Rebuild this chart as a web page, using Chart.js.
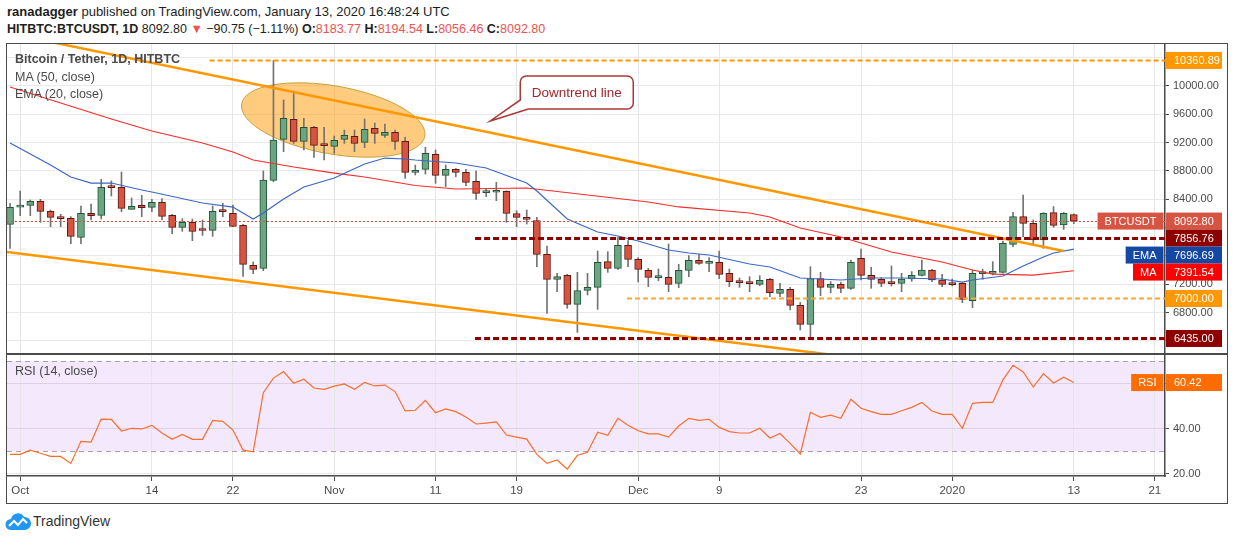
<!DOCTYPE html>
<html>
<head>
<meta charset="utf-8">
<title>Bitcoin / Tether, 1D, HITBTC</title>
<script src="https://cdn.jsdelivr.net/npm/chart.js@4.4.1/dist/chart.umd.min.js"></script>
<style>
  body { margin: 0; width: 1234px; height: 540px; background: #fff; position: relative; overflow: hidden;
         font-family: "Liberation Sans", Arial, sans-serif; color: #1e1e1e; }
  .abs { position: absolute; white-space: nowrap; }
  .hdr { left: 7px; font-size: 13px; }
  .dn { color: #ef5350; }
  .legend { left: 15px; font-size: 12.5px; color: #4a4a4a; }
  #mainBox { position: absolute; left: 7px; top: 44px; width: 1220px; height: 310px; }
  #rsiBox { position: absolute; left: 7px; top: 354px; width: 1220px; height: 149px; }
  #frame { position: absolute; left: 6px; top: 43px; width: 1222px; height: 461px; box-sizing: border-box;
           border: 1.5px solid #4a4a4a; pointer-events: none; }
  #sep { position: absolute; left: 6px; top: 353px; width: 1222px; height: 1.5px; background: #4a4a4a; }
</style>
</head>
<body>
<div class="abs hdr" style="top:4px"><b>ranadagger</b> published on TradingView.com, January 13, 2020 16:48:24 UTC</div>
<div class="abs hdr" style="top:22px;font-size:12.5px"><b>HITBTC:BTCUSDT, 1D</b> 8092.80 <span class="dn">▼</span> −90.75 (−1.11%) <b>O:</b><span class="dn">8183.77</span> <b>H:</b><span class="dn">8194.54</span> <b>L:</b><span class="dn">8056.46</span> <b>C:</b><span class="dn">8092.80</span></div>

<div id="mainBox"><canvas id="mainChart"></canvas></div>
<div id="rsiBox"><canvas id="rsiChart"></canvas></div>
<div id="frame"></div>
<div id="sep"></div>

<div class="abs legend" style="top:52px;font-weight:bold">Bitcoin / Tether, 1D, HITBTC</div>
<div class="abs legend" style="top:70px">MA (50, close)</div>
<div class="abs legend" style="top:87px">EMA (20, close)</div>
<div class="abs legend" style="top:364px">RSI (14, close)</div>

<svg class="abs" style="left:5px;top:511px" width="26" height="20" viewBox="0 0 26 20">
  <path d="M6 19 a5.5 5.5 0 0 1 0-11 a7 7 0 0 1 13-2 a6.5 6.5 0 0 1 1 13 z" fill="#2196f3"/>
  <polyline points="4,15 9,10 13,14 18,8 22,12" fill="none" stroke="#fff" stroke-width="2"/>
</svg>
<div class="abs" style="left:33px;top:513px;font-size:14px;color:#333">TradingView</div>

<script>
// daily candles, 30 Sep 2019 (index 0) to 13 Jan 2020 (index 105)
const opens = [8047, 8290, 8315, 8371, 8230, 8146, 8130, 7863, 8202, 8174,
  8575, 8569, 8259, 8315, 8287, 8357, 8174, 8004, 8075, 7967,
  7962, 8240, 8202, 8033, 7468, 7425, 8668, 9246, 9529, 9218,
  9416, 9165, 9148, 9246, 9289, 9204, 9402, 9303, 9345, 9218,
  8781, 8823, 9035, 8738, 8823, 8781, 8654, 8495, 8500, 8513,
  8197, 8146, 8099, 7623, 7270, 7327, 6917, 7115, 7157, 7520,
  7425, 7750, 7553, 7397, 7295, 7298, 7214, 7397, 7538, 7496,
  7510, 7355, 7228, 7214, 7200, 7270, 7072, 7129, 6903, 6635,
  7280, 7157, 7200, 7143, 7567, 7327, 7270, 7218, 7214, 7275,
  7327, 7402, 7261, 7200, 7214, 6969, 7350, 7355, 7369, 7764,
  8155, 8061, 7826, 8212, 8038, 8183.77];
const highs = [8343, 8517, 8390, 8400, 8249, 8188, 8155, 8306, 8334, 8682,
  8659, 8786, 8419, 8456, 8400, 8409, 8188, 8127, 8122, 8108,
  8306, 8343, 8320, 8047, 7515, 8800, 10361, 9802, 9929, 9543,
  9430, 9416, 9294, 9378, 9378, 9534, 9477, 9463, 9378, 9275,
  8884, 9134, 9096, 8884, 8835, 8823, 8800, 8555, 8640, 8520,
  8240, 8249, 8146, 7741, 7355, 7341, 7369, 7355, 7670, 7661,
  7863, 7816, 7576, 7425, 7416, 7769, 7482, 7604, 7623, 7576,
  7670, 7416, 7289, 7308, 7322, 7284, 7214, 7157, 6945, 7449,
  7369, 7237, 7230, 7543, 7699, 7440, 7294, 7459, 7355, 7379,
  7543, 7412, 7341, 7275, 7223, 7402, 7412, 7520, 7812, 8217,
  8461, 8108, 8212, 8297, 8215, 8194.54];
const lows = [7708, 8169, 8169, 8075, 8014, 8014, 7774, 7774, 8108, 8122,
  8447, 8226, 8259, 8155, 8226, 8108, 7915, 7948, 7816, 7891,
  7877, 8155, 8014, 7312, 7350, 7392, 8649, 9072, 9190, 9096,
  8992, 8955, 9049, 9190, 9072, 9129, 9190, 9275, 9105, 8696,
  8743, 8757, 8625, 8578, 8719, 8593, 8400, 8437, 8381, 8075,
  8014, 8051, 7449, 6790, 7096, 6861, 6522, 7049, 6846, 7369,
  7411, 7449, 7232, 7167, 7251, 7096, 7152, 7308, 7482, 7378,
  7280, 7167, 7157, 7096, 7181, 7025, 7025, 6837, 6555, 6437,
  7039, 7082, 7080, 7129, 7261, 7143, 7167, 7176, 7096, 7242,
  7317, 7237, 7167, 7176, 6941, 6870, 7270, 7332, 7360, 7732,
  7873, 7765, 7708, 8005, 7976, 8056.46];
const closes = [8287, 8301, 8371, 8230, 8146, 8127, 7877, 8202, 8169, 8569,
  8565, 8273, 8301, 8282, 8357, 8160, 8004, 8075, 7948, 7960,
  8230, 8226, 8018, 7482, 7411, 8673, 9237, 9543, 9218, 9416,
  9162, 9157, 9232, 9303, 9190, 9388, 9331, 9345, 9218, 8781,
  8809, 9049, 8738, 8823, 8781, 8640, 8484, 8500, 8510, 8202,
  8146, 8117, 7623, 7270, 7308, 6917, 7110, 7157, 7510, 7425,
  7750, 7553, 7411, 7298, 7300, 7200, 7397, 7538, 7496, 7524,
  7341, 7237, 7223, 7209, 7256, 7082, 7129, 6903, 6635, 7280,
  7157, 7200, 7143, 7510, 7327, 7270, 7214, 7210, 7275, 7327,
  7402, 7261, 7200, 7195, 6988, 7355, 7357, 7360, 7779, 8155,
  8061, 7826, 8203, 8033, 8202, 8092.80];

// MA(50) and EMA(20) at sample days
const maDays = [0, 10, 14, 19, 22, 24, 28, 32, 35, 40, 44, 51, 57, 63, 66, 73, 75, 78, 82, 87, 92, 95, 97, 101, 105];
const maValues = [9986, 9534, 9365, 9195, 9068, 8955, 8856, 8771, 8715, 8595, 8546, 8560, 8461, 8362, 8292,
  8207, 8150, 7995, 7868, 7656, 7515, 7402, 7345, 7331, 7391.54];
const emaDays = [0, 4, 6, 8, 10, 13, 14, 19, 22, 24, 25, 27, 29, 32, 35, 37, 39, 40, 44, 47, 51, 52, 55, 58, 60,
  62, 65, 67, 69, 73, 75, 78, 82, 85, 88, 92, 94, 95, 98, 100, 102, 103, 105];
const emaValues = [9195, 8885, 8715, 8630, 8630, 8532, 8503, 8348, 8291, 8122, 8207, 8404, 8574, 8701, 8899,
  8983, 8969, 8955, 8913, 8842, 8630, 8517, 8122, 7938, 7882, 7811, 7684, 7642, 7614, 7487, 7444, 7289,
  7261, 7289, 7289, 7275, 7232, 7261, 7317, 7458, 7585, 7642, 7696.69];

// RSI(14), one value per candle
const rsiValues = [28.5, 28.5, 30.4, 29.0, 27.6, 27.6, 24.5, 34.3, 34.0, 44.2,
  44.1, 38.9, 40.1, 39.8, 41.4, 38.0, 35.2, 37.4, 35.2, 35.2,
  43.6, 43.2, 39.3, 30.4, 29.6, 55.9, 62.4, 65.3, 60.1, 61.9,
  58.0, 57.4, 58.8, 59.8, 57.4, 60.5, 58.9, 59.3, 56.4, 47.8,
  48.1, 52.5, 47.0, 48.7, 47.5, 45.1, 42.0, 42.4, 42.9, 37.1,
  36.2, 35.3, 28.5, 24.5, 26.0, 22.0, 28.1, 29.4, 38.4, 37.0,
  44.5, 41.4, 39.0, 37.6, 37.6, 36.2, 41.1, 44.5, 43.6, 44.1,
  40.5, 38.6, 38.0, 38.0, 40.1, 35.8, 37.8, 33.4, 28.7, 47.2,
  45.0, 45.9, 44.5, 53.0, 49.0, 47.5, 46.3, 46.3, 47.9, 49.4,
  51.6, 47.8, 46.3, 46.3, 40.1, 51.2, 51.6, 51.6, 61.6, 68.1,
  65.1, 58.4, 64.4, 60.2, 62.8, 60.42];

// time axis ticks (day index -> label)
const tickDays = [1, 14, 22, 32, 42, 50, 62, 70, 84, 93, 105, 113];
const tickLabels = ['Oct', '14', '22', 'Nov', '11', '19', 'Dec', '9', '23', '2020', '13', '21'];
const priceTicks = [6400, 6800, 7200, 7600, 8000, 8400, 8800, 9200, 9600, 10000, 10400];
const hiddenPriceTicks = [6400, 7600, 8000, 10400];
const rsiTicks = [20, 40, 60];

// drawn levels and lines (prices)
const levelPrices = [10360.89, 7856.76, 7000, 6435];
const upperTrend = [[0, 10741], [104, 7670]];
const lowerTrend = [[-0.3, 7656], [85, 6135]];

const FONT = '"Liberation Sans", Arial, sans-serif';
Chart.defaults.font.family = FONT;
Chart.defaults.animation = false;

const UP = '#6ba583', DOWN = '#d75442', UP_BORDER = '#225437', DOWN_BORDER = '#5b1a13';
const isUp = i => closes[i] >= opens[i];

const xMin = -0.3, xMax = 114;

function timeScale(showLabels) {
  return {
    type: 'linear', min: xMin, max: xMax, offset: false,
    afterBuildTicks: s => { s.ticks = tickDays.map(v => ({ value: v })); },
    afterFit: s => { s.height = showLabels ? 27 : 0; s.paddingLeft = 0; s.paddingRight = 0; },
    grid: { color: '#e6e6e6', offset: false, drawTicks: showLabels, tickLength: 5, tickColor: '#4a4a4a' },
    border: { display: showLabels, color: '#4a4a4a', width: 1.5 },
    ticks: {
      display: showLabels, autoSkip: false, maxRotation: 0, padding: 3,
      color: '#4a4a4a', font: { size: 11.5 },
      callback: v => tickLabels[tickDays.indexOf(v)]
    }
  };
}

function priceAxisFit(s) {
  s.width = 62;
  s.paddingTop = 0;
  s.paddingBottom = 0;
}

function drawTag(ctx, area, yPix, value, bg, tag) {
  const h = 17;
  ctx.fillStyle = bg;
  ctx.fillRect(area.right + 1, yPix - h / 2, 56, h);
  ctx.font = '11px ' + FONT;
  ctx.textBaseline = 'middle';
  ctx.textAlign = 'left';
  ctx.fillStyle = '#fff';
  ctx.fillText(value, area.right + 9, yPix + 0.5);
  if (tag) {
    const w = ctx.measureText(tag).width + 14;
    ctx.fillStyle = bg;
    ctx.fillRect(area.right - 1.5 - w, yPix - h / 2, w, h);
    ctx.fillStyle = '#fff';
    ctx.textAlign = 'center';
    ctx.fillText(tag, area.right - 1.5 - w / 2, yPix + 0.5);
  }
}

const mainOverlay = {
  id: 'mainOverlay',
  beforeDatasetsDraw(chart) {
    const { ctx, scales: { x, y } } = chart;
    // highlighted consolidation
    ctx.save();
    ctx.beginPath();
    ctx.ellipse(x.getPixelForValue(31.9), y.getPixelForValue(9520), 93, 34, 0.175, 0, Math.PI * 2);
    ctx.fillStyle = 'rgba(255,152,0,0.5)';
    ctx.fill();
    ctx.strokeStyle = '#c4a23c';
    ctx.lineWidth = 1;
    ctx.stroke();
    ctx.restore();
  },
  afterDatasetsDraw(chart) {
    const { ctx, chartArea: a, scales: { x, y } } = chart;
    ctx.save();
    ctx.beginPath();
    ctx.rect(a.left, a.top, a.right - a.left, a.bottom - a.top);
    ctx.clip();

    // channel lines
    ctx.strokeStyle = '#ff9800';
    ctx.lineWidth = 2.5;
    [upperTrend, lowerTrend].forEach(t => {
      ctx.beginPath();
      ctx.moveTo(x.getPixelForValue(t[0][0]), y.getPixelForValue(t[0][1]));
      ctx.lineTo(x.getPixelForValue(t[1][0]), y.getPixelForValue(t[1][1]));
      ctx.stroke();
    });

    // horizontal levels
    const levelStyle = [
      { from: 19.7, color: '#ff9800', width: 2, dash: [5, 3] },
      { from: 45.9, color: '#8e0000', width: 3, dash: [6, 3] },
      { from: 60.9, color: '#ffa726', width: 2, dash: [5, 3] },
      { from: 45.9, color: '#8e0000', width: 3, dash: [6, 3] }
    ];
    levelPrices.forEach((p, i) => {
      const s = levelStyle[i];
      const py = Math.round(y.getPixelForValue(p)) + 0.5;
      ctx.beginPath();
      ctx.setLineDash(s.dash);
      ctx.strokeStyle = s.color;
      ctx.lineWidth = s.width;
      ctx.moveTo(x.getPixelForValue(s.from), py);
      ctx.lineTo(a.right, py);
      ctx.stroke();
    });

    // last price line
    const lp = Math.round(y.getPixelForValue(closes[closes.length - 1])) + 0.5;
    ctx.beginPath();
    ctx.setLineDash([2, 2]);
    ctx.strokeStyle = DOWN;
    ctx.lineWidth = 1;
    ctx.moveTo(a.left, lp);
    ctx.lineTo(a.right, lp);
    ctx.stroke();
    ctx.setLineDash([]);

    // callout
    const tx = x.getPixelForValue(47.4), ty = y.getPixelForValue(9506);
    const L = tx + 30, T = ty - 45, R = L + 113, B = T + 33, r = 6;
    ctx.beginPath();
    ctx.moveTo(L + r, T);
    ctx.lineTo(R - r, T); ctx.arcTo(R, T, R, T + r, r);
    ctx.lineTo(R, B - r); ctx.arcTo(R, B, R - r, B, r);
    ctx.lineTo(L + 8, B);
    ctx.lineTo(tx, ty);
    ctx.lineTo(L, B - 9);
    ctx.lineTo(L, T + r); ctx.arcTo(L, T, L + r, T, r);
    ctx.closePath();
    ctx.fillStyle = '#fff';
    ctx.fill();
    ctx.strokeStyle = '#a63a3a';
    ctx.lineWidth = 1.5;
    ctx.stroke();
    ctx.fillStyle = '#a0282d';
    ctx.font = '13.5px ' + FONT;
    ctx.textAlign = 'center';
    ctx.textBaseline = 'middle';
    ctx.fillText('Downtrend line', (L + R) / 2, (T + B) / 2 + 0.5);
    ctx.restore();
  },
  afterDraw(chart) {
    const { ctx, chartArea: a, scales: { y } } = chart;
    const tags = [
      { p: levelPrices[0], bg: '#ff9800' },
      { p: closes[closes.length - 1], bg: DOWN, tag: 'BTCUSDT' },
      { p: levelPrices[1], bg: '#8e0000' },
      { p: emaValues[emaValues.length - 1], bg: '#1448a3', tag: 'EMA' },
      { p: maValues[maValues.length - 1], bg: '#ff0000', tag: 'MA' },
      { p: levelPrices[2], bg: '#ff9800' },
      { p: levelPrices[3], bg: '#8e0000' }
    ].sort((m, n) => n.p - m.p);
    let last = -1e9;
    ctx.save();
    tags.forEach(t => {
      let py = y.getPixelForValue(t.p);
      if (py < last + 17) py = last + 17;
      last = py;
      drawTag(ctx, a, py, t.p.toFixed(2), t.bg, t.tag);
    });
    ctx.restore();
  }
};

new Chart(document.getElementById('mainChart'), {
  type: 'bar',
  data: {
    datasets: [
      {
        type: 'line', label: 'EMA', order: 0,
        data: emaDays.map((d, i) => ({ x: d, y: emaValues[i] })),
        borderColor: '#3a66c4', borderWidth: 1.2, pointRadius: 0, tension: 0
      },
      {
        type: 'line', label: 'MA', order: 0,
        data: maDays.map((d, i) => ({ x: d, y: maValues[i] })),
        borderColor: '#ff2a2a', borderWidth: 1.2, pointRadius: 0, tension: 0
      },
      {
        label: 'body', order: 1, grouped: false,
        data: opens.map((o, i) => ({ x: i, y: [o, closes[i]] })),
        backgroundColor: opens.map((o, i) => isUp(i) ? UP : DOWN),
        borderColor: opens.map((o, i) => isUp(i) ? UP_BORDER : DOWN_BORDER),
        borderWidth: 1, borderSkipped: false, barThickness: 7, minBarLength: 2
      },
      {
        label: 'wick', order: 2, grouped: false,
        data: lows.map((l, i) => ({ x: i, y: [l, highs[i]] })),
        backgroundColor: '#737375', borderWidth: 0, barThickness: 1
      }
    ]
  },
  options: {
    responsive: true, maintainAspectRatio: false, events: [],
    layout: { padding: 0 },
    plugins: { legend: { display: false }, tooltip: { enabled: false } },
    scales: {
      x: timeScale(false),
      y: {
        position: 'right', min: 6216, max: 10593,
        afterBuildTicks: s => { s.ticks = priceTicks.map(v => ({ value: v })); },
        afterFit: priceAxisFit,
        grid: { color: '#e9e9e9', tickColor: '#4a4a4a', tickLength: 4 },
        border: { color: '#4a4a4a', width: 1.5 },
        ticks: {
          padding: 4, color: '#4a4a4a', font: { size: 11 },
          callback: v => hiddenPriceTicks.includes(v) ? '' : v.toFixed(2)
        }
      }
    }
  },
  plugins: [mainOverlay]
});

const rsiOverlay = {
  id: 'rsiOverlay',
  beforeDraw(chart) {
    const { ctx, chartArea: a, scales: { y } } = chart;
    ctx.save();
    ctx.fillStyle = '#f3e8fc';
    const t = y.getPixelForValue(70), b = y.getPixelForValue(30);
    ctx.fillRect(a.left, t, a.right - a.left, b - t);
    ctx.restore();
  },
  beforeDatasetsDraw(chart) {
    const { ctx, chartArea: a, scales: { y } } = chart;
    ctx.save();
    ctx.setLineDash([5, 4]);
    ctx.strokeStyle = '#a99cb3';
    ctx.lineWidth = 1;
    [70, 30].forEach(v => {
      const py = Math.round(y.getPixelForValue(v)) + 0.5;
      ctx.beginPath();
      ctx.moveTo(a.left, py);
      ctx.lineTo(a.right, py);
      ctx.stroke();
    });
    ctx.restore();
  },
  afterDraw(chart) {
    const { ctx, chartArea: a, scales: { y } } = chart;
    const v = rsiValues[rsiValues.length - 1];
    ctx.save();
    drawTag(ctx, a, y.getPixelForValue(v), v.toFixed(2), '#ff6d00', 'RSI');
    ctx.restore();
  }
};

new Chart(document.getElementById('rsiChart'), {
  type: 'line',
  data: {
    datasets: [{
      label: 'RSI',
      data: rsiValues.map((v, i) => ({ x: i, y: v })),
      borderColor: '#fa6e2c', borderWidth: 1.2, pointRadius: 0, tension: 0
    }]
  },
  options: {
    responsive: true, maintainAspectRatio: false, events: [],
    layout: { padding: 0 },
    plugins: { legend: { display: false }, tooltip: { enabled: false } },
    scales: {
      x: timeScale(true),
      y: {
        position: 'right', min: 18.9, max: 73.1,
        afterBuildTicks: s => { s.ticks = rsiTicks.map(v => ({ value: v })); },
        afterFit: priceAxisFit,
        grid: { color: c => c.tick && c.tick.value === 20 ? '#e6e6e6' : '#dccfe6', tickColor: '#4a4a4a', tickLength: 4 },
        border: { color: '#4a4a4a', width: 1.5 },
        ticks: { padding: 4, color: '#4a4a4a', font: { size: 11 }, callback: v => v.toFixed(2) }
      }
    }
  },
  plugins: [rsiOverlay]
});
</script>
</body>
</html>
